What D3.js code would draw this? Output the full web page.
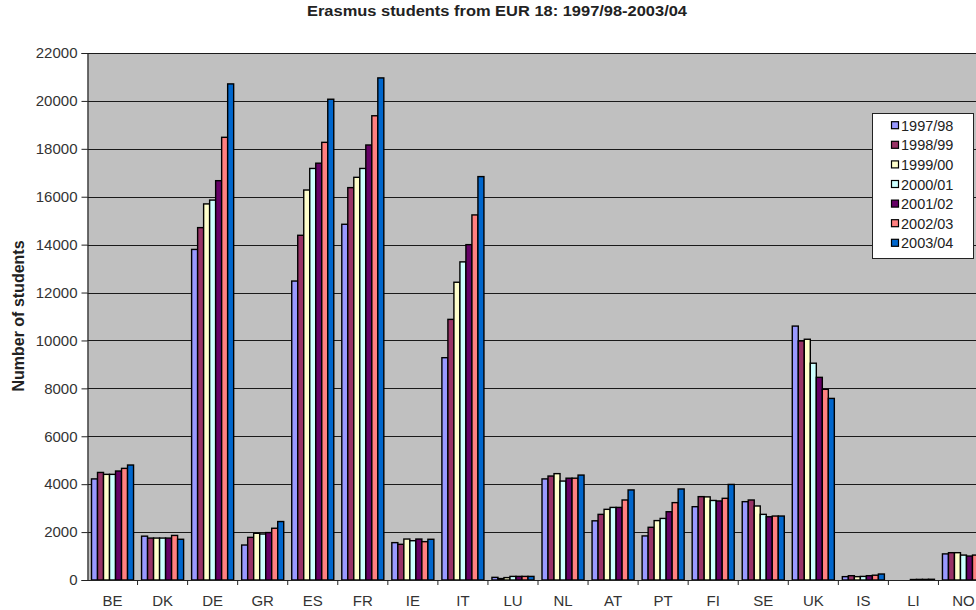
<!DOCTYPE html>
<html>
<head>
<meta charset="utf-8">
<script src="https://cdn.jsdelivr.net/npm/d3@7"></script>
<style>
  body { margin: 0; background: #fff; }
  svg { display: block; font-family: "Liberation Sans", Arial, sans-serif; }
</style>
</head>
<body>
<svg id="chart" width="976" height="610"></svg>
<script>
// countries (EUR 18)
const countries = ['BE', 'DK', 'DE', 'GR', 'ES', 'FR', 'IE', 'IT', 'LU', 'NL', 'AT', 'PT', 'FI', 'SE', 'UK', 'IS', 'LI', 'NO'];
const years = ['1997/98', '1998/99', '1999/00', '2000/01', '2001/02', '2002/03', '2003/04'];
const yearColors = ['#9999FF', '#993366', '#FFFFCC', '#CCFFFF', '#660066', '#FF8080', '#0066CC'];

// one array per academic year, values in country order
const y1997 = [4220, 1830, 13800, 1460, 12480, 14850, 1560, 9280, 110, 4220, 2470, 1840, 3060, 3270, 10600, 140, 0, 1090];
const y1998 = [4490, 1750, 14710, 1780, 14390, 16380, 1490, 10880, 60, 4340, 2740, 2200, 3480, 3340, 9980, 180, 0, 1140];
const y1999 = [4410, 1750, 15700, 1950, 16280, 16810, 1710, 12430, 100, 4440, 2950, 2480, 3470, 3090, 10050, 140, 0, 1140];
const y2000 = [4410, 1750, 15860, 1920, 17180, 17180, 1640, 13280, 150, 4130, 3030, 2570, 3320, 2740, 9050, 150, 20, 1040];
const y2001 = [4550, 1750, 16670, 1980, 17400, 18160, 1710, 14000, 150, 4250, 3030, 2850, 3300, 2640, 8460, 180, 25, 1000];
const y2002 = [4660, 1860, 18480, 2160, 18270, 19380, 1600, 15240, 150, 4250, 3340, 3230, 3410, 2670, 7960, 200, 25, 1040];
const y2003 = [4800, 1700, 20710, 2440, 20070, 20960, 1700, 16840, 150, 4380, 3760, 3800, 3990, 2670, 7580, 250, 30, 1050];
const series = [y1997, y1998, y1999, y2000, y2001, y2002, y2003];

const yTicks = d3.range(0, 22001, 2000);

const svg = d3.select('#chart');
const plot = { left: 87.5, right: 988.5, top: 53, bottom: 580 };

const x = d3.scaleBand()
  .domain(countries)
  .range([plot.left, plot.right])
  .paddingInner(0.16)
  .paddingOuter(0.08);

const xInner = d3.scaleBand()
  .domain(years)
  .range([0, x.bandwidth()]);

const y = d3.scaleLinear()
  .domain([0, 22000])
  .range([plot.bottom, plot.top]);

// plot background
svg.append('rect')
  .attr('x', plot.left)
  .attr('y', plot.top)
  .attr('width', plot.right - plot.left)
  .attr('height', plot.bottom - plot.top)
  .attr('fill', '#C0C0C0');

// gridlines
svg.append('g')
  .selectAll('line')
  .data(yTicks.filter((d) => d > 0))
  .join('line')
  .attr('x1', plot.left)
  .attr('x2', plot.right)
  .attr('y1', (d) => Math.round(y(d)) + 0.5)
  .attr('y2', (d) => Math.round(y(d)) + 0.5)
  .attr('stroke', '#1a1a1a')
  .attr('stroke-width', 1.2);

// bars
const groups = svg.append('g')
  .selectAll('g')
  .data(countries)
  .join('g')
  .attr('transform', (c) => `translate(${x(c)},0)`);

groups.selectAll('rect')
  .data((c, i) => years.map((yr, k) => ({ yr, k, v: series[k][i] })).filter((d) => d.v > 0))
  .join('rect')
  .attr('x', (d) => xInner(d.yr))
  .attr('width', xInner.bandwidth())
  .attr('y', (d) => y(d.v))
  .attr('height', (d) => y(0) - y(d.v))
  .attr('fill', (d) => yearColors[d.k])
  .attr('stroke', '#000')
  .attr('stroke-width', 1.4);

// y axis
const yAxis = svg.append('g')
  .attr('transform', `translate(${plot.left},0)`)
  .call(d3.axisLeft(y).tickValues(yTicks).tickSize(6).tickPadding(4).tickFormat(d3.format('d')));
yAxis.select('.domain').attr('stroke', '#222').attr('stroke-width', 1.2);
yAxis.selectAll('.tick line').attr('stroke', '#222');
yAxis.selectAll('text')
  .attr('font-size', 15)
  .attr('fill', '#333')
  .attr('font-family', '"Liberation Sans", Arial, sans-serif');

// x axis line, boundary ticks and labels
const boundaries = countries.map((c) => x(c) - x.step() * x.paddingInner() / 2);
svg.append('line')
  .attr('x1', plot.left)
  .attr('x2', plot.right)
  .attr('y1', plot.bottom + 0.5)
  .attr('y2', plot.bottom + 0.5)
  .attr('stroke', '#222')
  .attr('stroke-width', 1.2);

svg.append('g')
  .selectAll('line')
  .data(boundaries.slice(1))
  .join('line')
  .attr('x1', (d) => d)
  .attr('x2', (d) => d)
  .attr('y1', plot.bottom)
  .attr('y2', plot.bottom + 5)
  .attr('stroke', '#222');

svg.append('g')
  .selectAll('text')
  .data(countries)
  .join('text')
  .attr('x', (c) => x(c) + x.bandwidth() / 2)
  .attr('y', 606)
  .attr('text-anchor', 'middle')
  .attr('font-size', 15)
  .attr('fill', '#333')
  .text((c) => c);

// title
svg.append('text')
  .attr('x', 307)
  .attr('y', 16)
  .attr('font-size', 14)
  .attr('font-weight', 'bold')
  .attr('fill', '#222')
  .attr('textLength', 380)
  .attr('lengthAdjust', 'spacingAndGlyphs')
  .text('Erasmus students from EUR 18: 1997/98-2003/04');

// y axis title
svg.append('text')
  .attr('transform', 'translate(24,316) rotate(-90)')
  .attr('text-anchor', 'middle')
  .attr('font-size', 16)
  .attr('font-weight', 'bold')
  .attr('fill', '#222')
  .text('Number of students');

// legend
const legend = svg.append('g').attr('transform', 'translate(872,113)');
legend.append('rect')
  .attr('x', 0.5)
  .attr('y', 0.5)
  .attr('width', 101)
  .attr('height', 145)
  .attr('fill', '#fff')
  .attr('stroke', '#222');

const items = legend.selectAll('g.item')
  .data(years)
  .join('g')
  .attr('class', 'item')
  .attr('transform', (d, i) => `translate(0,${12.7 + i * 19.6})`);

items.append('rect')
  .attr('x', 19.5)
  .attr('y', -4)
  .attr('width', 7)
  .attr('height', 7)
  .attr('fill', (d, i) => yearColors[i])
  .attr('stroke', '#000')
  .attr('stroke-width', 1.2);

items.append('text')
  .attr('x', 29)
  .attr('y', 5)
  .attr('font-size', 14.5)
  .attr('fill', '#222')
  .text((d) => d);
</script>
</body>
</html>
